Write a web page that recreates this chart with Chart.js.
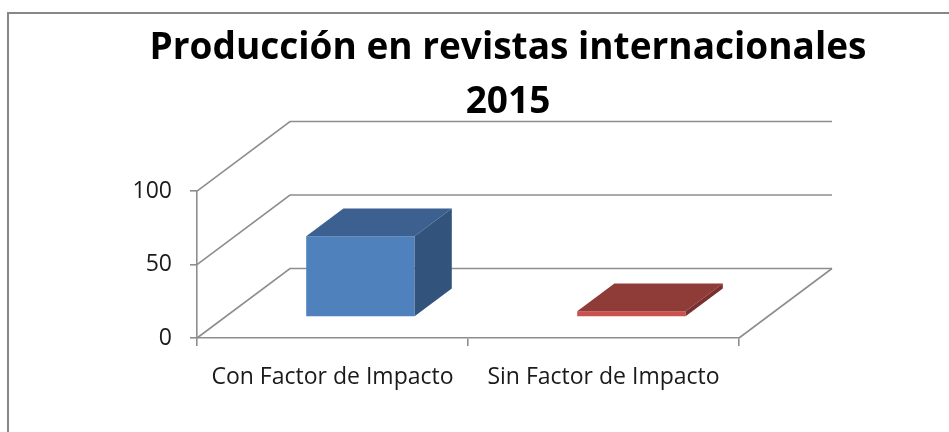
<!DOCTYPE html>
<html>
<head>
<meta charset="utf-8">
<script src="https://cdn.jsdelivr.net/npm/chart.js@4.4.1/dist/chart.umd.min.js"></script>
<style>
  html, body { margin: 0; padding: 0; background: #ffffff; overflow: hidden; }
  #wrap { position: relative; width: 949px; height: 432px; overflow: hidden; }
  #frame { position: absolute; left: 7px; top: 12px; width: 2000px; height: 1000px;
           border-left: 2px solid #878787; border-top: 2px solid #878787; }
  canvas { position: absolute; left: 0; top: 0; }
</style>
</head>
<body>
<div id="wrap">
  <div id="frame"></div>
  <canvas id="c" width="949" height="432"></canvas>
</div>
<script>
// ---- data ----
const titleLines = ["Producción en revistas internacionales", "2015"];
const categories = ["Con Factor de Impacto", "Sin Factor de Impacto"];
const values = [55, 4];
const yTicks = [0, 50, 100];

// ---- styles ----
const frontColors = ["#4F81BD", "#C9524E"];
const topColors = ["#3C6190", "#8F3B38"];
const sideColors = ["#32537C", "#7A302E"];
const lineColor = "#8E8E8E";
const DEPTH_X = 93, DEPTH_Y = 69.5;       // oblique depth of the floor / walls
const BAR_START = 0.30, BAR_DEPTH = 0.40; // bar position in depth (fractions)

const wallsAnd3D = {
  id: 'wallsAnd3D',
  beforeDatasetsDraw(chart) {
    const ctx = chart.ctx, a = chart.chartArea, ys = chart.scales.y;
    ctx.save();
    ctx.strokeStyle = lineColor;
    ctx.lineWidth = 1.6;
    yTicks.forEach(v => {
      const py = ys.getPixelForValue(v);
      ctx.beginPath();
      ctx.moveTo(a.left, py);
      ctx.lineTo(a.left + DEPTH_X, py - DEPTH_Y);
      ctx.lineTo(a.right + DEPTH_X, py - DEPTH_Y);
      ctx.stroke();
    });
    const p0 = ys.getPixelForValue(0);
    ctx.beginPath();
    ctx.moveTo(a.right, p0);
    ctx.lineTo(a.right + DEPTH_X, p0 - DEPTH_Y);
    ctx.stroke();
    ctx.restore();
    ctx.save();
    ctx.translate(DEPTH_X * BAR_START, -DEPTH_Y * BAR_START);
  },
  afterDatasetsDraw(chart) {
    const ctx = chart.ctx;
    const meta = chart.getDatasetMeta(0);
    const dx = DEPTH_X * BAR_DEPTH, dy = DEPTH_Y * BAR_DEPTH;
    meta.data.forEach((bar, i) => {
      const p = bar.getProps(['x', 'y', 'base', 'width'], true);
      const l = p.x - p.width / 2, r = p.x + p.width / 2;
      ctx.fillStyle = topColors[i];
      ctx.beginPath();
      ctx.moveTo(l, p.y);
      ctx.lineTo(l + dx, p.y - dy);
      ctx.lineTo(r + dx, p.y - dy);
      ctx.lineTo(r, p.y);
      ctx.closePath();
      ctx.fill();
      ctx.fillStyle = sideColors[i];
      ctx.beginPath();
      ctx.moveTo(r, p.y);
      ctx.lineTo(r + dx, p.y - dy);
      ctx.lineTo(r + dx, p.base - dy);
      ctx.lineTo(r, p.base);
      ctx.closePath();
      ctx.fill();
    });
    ctx.restore();
  }
};

new Chart(document.getElementById('c'), {
  type: 'bar',
  data: {
    labels: categories,
    datasets: [{
      data: values,
      backgroundColor: frontColors,
      borderWidth: 0,
      barPercentage: 0.4,
      categoryPercentage: 1.0,
      clip: false
    }]
  },
  options: {
    responsive: false,
    animation: false,
    events: [],
    layout: { padding: { left: 67, right: 0, top: 0, bottom: 0 } },
    plugins: {
      legend: { display: false },
      tooltip: { enabled: false },
      title: {
        display: true,
        text: titleLines,
        color: '#000000',
        font: { family: 'Open Sans', size: 37, weight: 'bold', lineHeight: 1.46 },
        padding: { top: 21, bottom: 62 }
      }
    },
    scales: {
      x: {
        grid: { display: true, drawOnChartArea: false, drawTicks: true, tickLength: 8,
                color: lineColor, lineWidth: 1.6, offset: true },
        border: { display: true, color: lineColor, width: 1.6 },
        ticks: { color: '#1a1a1a', font: { family: 'Open Sans', size: 23 }, padding: 18, maxRotation: 0 },
        afterFit(s) { s.height = 94; }
      },
      y: {
        position: 'left',
        min: 0, max: 100,
        afterBuildTicks(s) { s.ticks = yTicks.map(v => ({ value: v })); },
        grid: { display: true, drawOnChartArea: false, drawTicks: true, tickLength: 7,
                color: lineColor, lineWidth: 1.6 },
        border: { display: true, color: lineColor, width: 1.6 },
        ticks: { color: '#1a1a1a', font: { family: 'Open Sans', size: 23 }, padding: 18 },
        afterFit(s) { s.width = 130; }
      },
      yRight: {
        position: 'right',
        display: true,
        grid: { display: false },
        border: { display: false },
        ticks: { display: false },
        afterFit(s) { s.width = 210; }
      }
    }
  },
  plugins: [wallsAnd3D]
});
</script>
</body>
</html>
